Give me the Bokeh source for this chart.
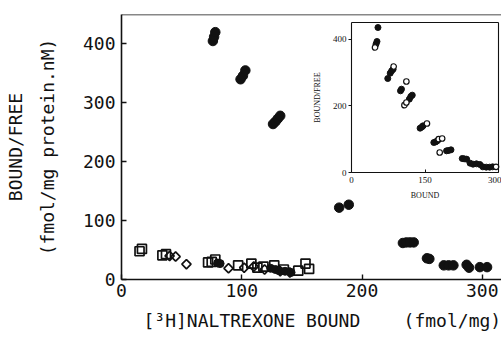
import math
from bokeh.plotting import figure
from bokeh.models import Range1d, LinearAxis, FixedTicker
from bokeh.embed import file_html
from bokeh.resources import INLINE

# ---- main plot data ----
main_xticks = [0, 100, 200, 300]
main_yticks = [0, 100, 200, 300, 400]

filled_x = [76, 77, 78, 99, 101, 103, 126, 128, 130, 132, 181, 189,
            234, 237, 240, 243, 254, 256, 268, 272, 276, 287, 289, 298, 304]
filled_y = [405, 412, 420, 340, 346, 355, 264, 268, 273, 278, 122, 127,
            62, 63, 63, 63, 36, 35, 24, 24, 24, 25, 20, 21, 21]

low_filled_x = [80, 82, 124, 128, 131, 136, 141]
low_filled_y = [28, 27, 19, 17, 15, 14, 12]

square_x = [15, 17, 34, 37, 72, 75, 78, 97, 108, 113, 118, 127, 135, 147, 153, 156]
square_y = [48, 52, 41, 43, 29, 30, 34, 24, 27, 20, 22, 24, 17, 15, 27, 18]

diamond_x = [40, 45, 54, 89, 102, 110, 119, 132, 140]
diamond_y = [40, 39, 26, 19, 20, 22, 17, 14, 12]

# ---- inset data ----
inset_xticks = [0, 150, 300]
inset_yticks = [0, 200, 400]

inset_filled_x = [54, 52, 50, 74, 79, 82, 85, 100, 102, 118, 121, 124, 140, 144, 146,
                  168, 172, 175, 194, 198, 203, 226, 230, 235, 242, 248, 255, 262,
                  268, 275, 282, 288]
inset_filled_y = [435, 393, 385, 282, 298, 305, 310, 245, 250, 220, 228, 232, 133, 137, 140,
                  90, 92, 95, 65, 66, 68, 42, 41, 40, 28, 25, 26, 24,
                  17, 16, 16, 17]

inset_open_x = [48, 86, 112, 108, 112, 154, 178, 185, 180, 295]
inset_open_y = [375, 318, 273, 202, 210, 147, 100, 102, 60, 17]

# ---- layout constants (figure pixel coords) ----
W, H = 501, 339
FL, FR, FT, FB = 121, W, 14, 279         # frame edges
IL, IR, IT, IB = 351, 498, 22, 172       # inset box edges
IX0, IX1 = 0, 300
IY0, IY1 = 0, 450

MONO = "DejaVu Sans Mono"
SERIF = "Liberation Serif"
INK = "#111111"

p = figure(width=W, height=H, x_range=Range1d(0, 316), y_range=Range1d(0, 450),
           output_backend="svg", toolbar_location=None,
           min_border_left=FL, min_border_right=0, min_border_top=FT,
           min_border_bottom=H - FB)
p.outline_line_color = None
p.grid.visible = False
p.background_fill_color = "white"

for ax in (p.xaxis[0], p.yaxis[0]):
    ax.axis_line_width = 1.6
    ax.axis_line_color = INK
    ax.major_tick_line_color = INK
    ax.major_tick_line_width = 1.4
    ax.major_tick_in = 5
    ax.major_tick_out = 0
    ax.minor_tick_line_color = None
    ax.major_label_text_font = MONO
    ax.major_label_text_font_size = "18px"
    ax.major_label_text_color = INK
    ax.axis_label_text_font = MONO
    ax.axis_label_text_font_style = "normal"
    ax.axis_label_text_color = INK

p.xaxis.ticker = FixedTicker(ticks=main_xticks)
p.yaxis.ticker = FixedTicker(ticks=main_yticks)
p.xaxis.major_label_standoff = 4
p.yaxis.major_label_standoff = 6
p.xaxis.axis_label = "\u00a0\u00a0[\u00b3H]NALTREXONE BOUND\u00a0\u00a0\u00a0\u00a0(fmol/mg)"
p.xaxis.axis_label_text_font_size = "18px"
p.xaxis.axis_label_standoff = 10
p.yaxis.axis_label = "BOUND/FREE\n(fmol/mg protein.nM)"
p.yaxis.axis_label_text_font_size = "18px"
p.yaxis.axis_label_text_line_height = 1.5
p.yaxis.axis_label_standoff = 22

# top frame line of main plot
top = LinearAxis(fixed_location=450, ticker=FixedTicker(ticks=[]),
                 major_label_text_font_size="0px", axis_line_width=1.6,
                 axis_line_color=INK, major_tick_line_color=None,
                 minor_tick_line_color=None)
p.add_layout(top, "above")

# main markers
p.scatter(filled_x, filled_y, marker="circle", size=9.5, fill_color=INK, line_color=INK)
p.scatter(low_filled_x, low_filled_y, marker="circle", size=8, fill_color=INK, line_color=INK)
p.scatter(square_x, square_y, marker="square", size=9, fill_color=None,
          line_color=INK, line_width=1.7)
p.scatter(diamond_x, diamond_y, marker="square", angle=math.pi / 4, size=6.5,
          fill_color=None, line_color=INK, line_width=1.7)

# ---- inset via extra ranges ----
sx = (IR - IL) / (IX1 - IX0)
sy = (IB - IT) / (IY1 - IY0)
p.extra_x_ranges = {"ix": Range1d(IX0 - (IL - FL) / sx, IX1 + (FR - IR) / sx)}
p.extra_y_ranges = {"iy": Range1d(IY0 - (FB - IB) / sy, IY1 + (IT - FT) / sy)}

def inset_axis(side, loc, bounds, ticks, label=""):
    a = LinearAxis(x_range_name="ix", y_range_name="iy", fixed_location=loc,
                   bounds=bounds, ticker=FixedTicker(ticks=ticks),
                   axis_line_color=INK, axis_line_width=1.1,
                   major_tick_line_color=INK, major_tick_line_width=1,
                   minor_tick_line_color=None,
                   major_label_text_font=SERIF, major_label_text_font_size="9px",
                   major_label_text_color=INK,
                   axis_label=label, axis_label_text_font=SERIF,
                   axis_label_text_font_size="8px", axis_label_text_font_style="normal",
                   axis_label_text_color=INK)
    if not ticks:
        a.major_label_text_font_size = "0px"
        a.major_tick_line_color = None
    p.add_layout(a, side)
    return a

ly = inset_axis("left", IX0, (IY0, IY1), inset_yticks, "BOUND/FREE")
ly.major_tick_in = 0
ly.major_tick_out = 3
ly.major_label_standoff = 2
ly.axis_label_standoff = 8
bx = inset_axis("below", IY0, (IX0, IX1), inset_xticks, "BOUND")
bx.major_tick_in = 3
bx.major_tick_out = 0
bx.major_label_standoff = 4
bx.axis_label_standoff = 5
inset_axis("right", IX1, (IY0, IY1), [])
inset_axis("above", IY1, (IX0, IX1), [])

p.scatter(inset_filled_x, inset_filled_y, marker="circle", size=6,
          fill_color=INK, line_color=INK, x_range_name="ix", y_range_name="iy")
p.scatter(inset_open_x, inset_open_y, marker="circle", size=5.5,
          fill_color="white", line_color=INK, line_width=1.2,
          x_range_name="ix", y_range_name="iy")

open("out.html", "w").write(file_html(p, INLINE))
